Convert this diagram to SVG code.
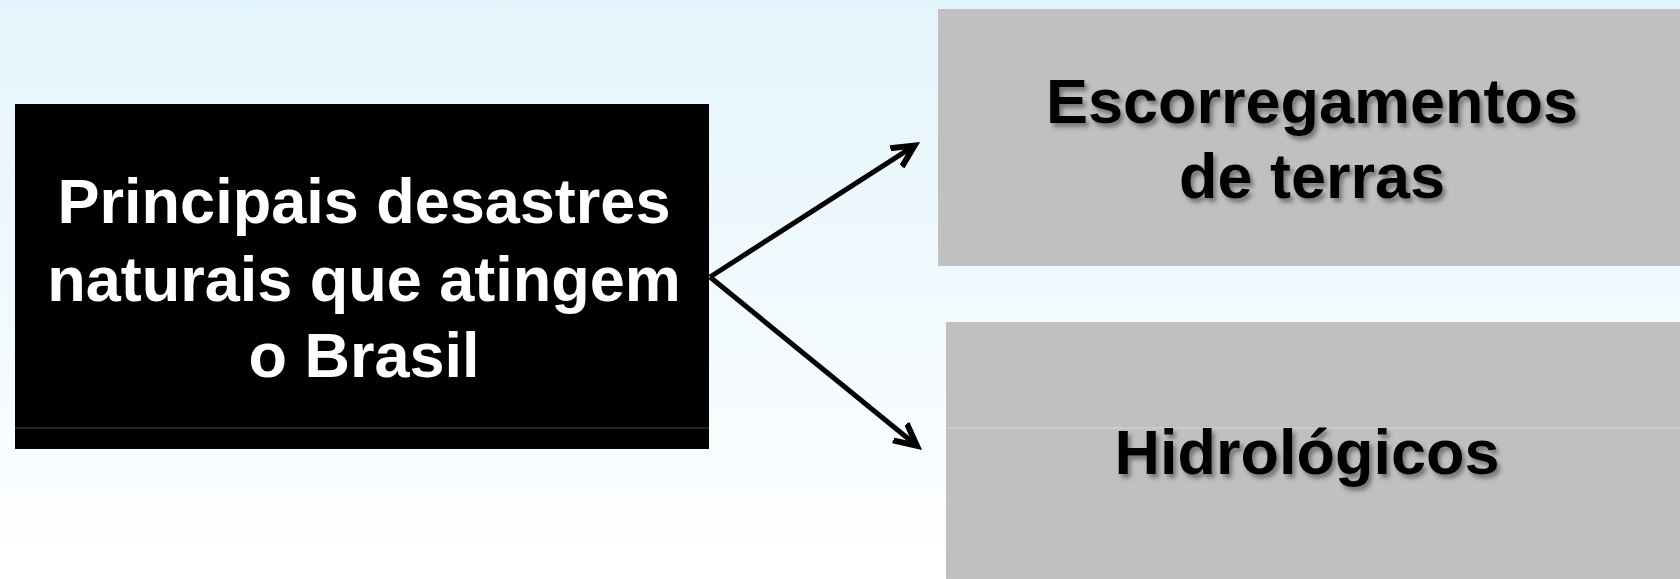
<svg xmlns="http://www.w3.org/2000/svg" width="1680" height="579" viewBox="0 0 1680 579">
<defs>
<linearGradient id="bg" x1="0" y1="0" x2="0" y2="1">
<stop offset="0" stop-color="#e3f5fc"/>
<stop offset="0.6" stop-color="#f3fafe"/>
<stop offset="1" stop-color="#ffffff"/>
</linearGradient>
<filter id="shadow" x="-10%" y="-30%" width="120%" height="160%">
<feDropShadow dx="3" dy="4" stdDeviation="2" flood-color="#444" flood-opacity="0.6"/>
</filter>
<marker id="arrow" viewBox="0 0 32 30" refX="22" refY="15" markerWidth="32" markerHeight="30" orient="auto" markerUnits="userSpaceOnUse">
<path d="M0,4 L22,15 L0,26" fill="none" stroke="#000" stroke-width="6" stroke-linejoin="miter"/>
</marker>
<style>
.lbl{font-family:"Liberation Sans",Arial,sans-serif;font-weight:bold;font-size:63px;text-anchor:middle}
.white{fill:#ffffff}
.dark{fill:#000000;filter:url(#shadow)}
.conn{stroke:#000;stroke-width:5;fill:none;marker-end:url(#arrow)}
</style>
</defs>
<rect x="0" y="0" width="1680" height="579" fill="url(#bg)"/>
<g id="node-main">
<rect x="15" y="104" width="694" height="345" fill="#000"/>
<line x1="15" y1="428" x2="709" y2="428" stroke="#4a4a4a" stroke-width="1"/>
<text class="lbl white" x="364" y="223">Principais desastres</text>
<text class="lbl white" x="364" y="301">naturais que atingem</text>
<text class="lbl white" x="364" y="377">o Brasil</text>
</g>
<g id="node-escorregamentos">
<rect x="938" y="9" width="742" height="257" fill="#c0c0c0"/>
<text class="lbl dark" x="1312" y="123">Escorregamentos</text>
<text class="lbl dark" x="1312" y="198">de terras</text>
</g>
<g id="node-hidrologicos">
<rect x="946" y="322" width="734" height="257" fill="#c0c0c0"/>
<line x1="946" y1="428" x2="1680" y2="428" stroke="#d6d6d6" stroke-width="1"/>
<text class="lbl dark" x="1307" y="474">Hidrológicos</text>
</g>
<g id="connectors">
<line class="conn" x1="710" y1="277" x2="914.5" y2="145.6"/>
<line class="conn" x1="710" y1="277" x2="916.9" y2="445.8"/>
</g>
</svg>
